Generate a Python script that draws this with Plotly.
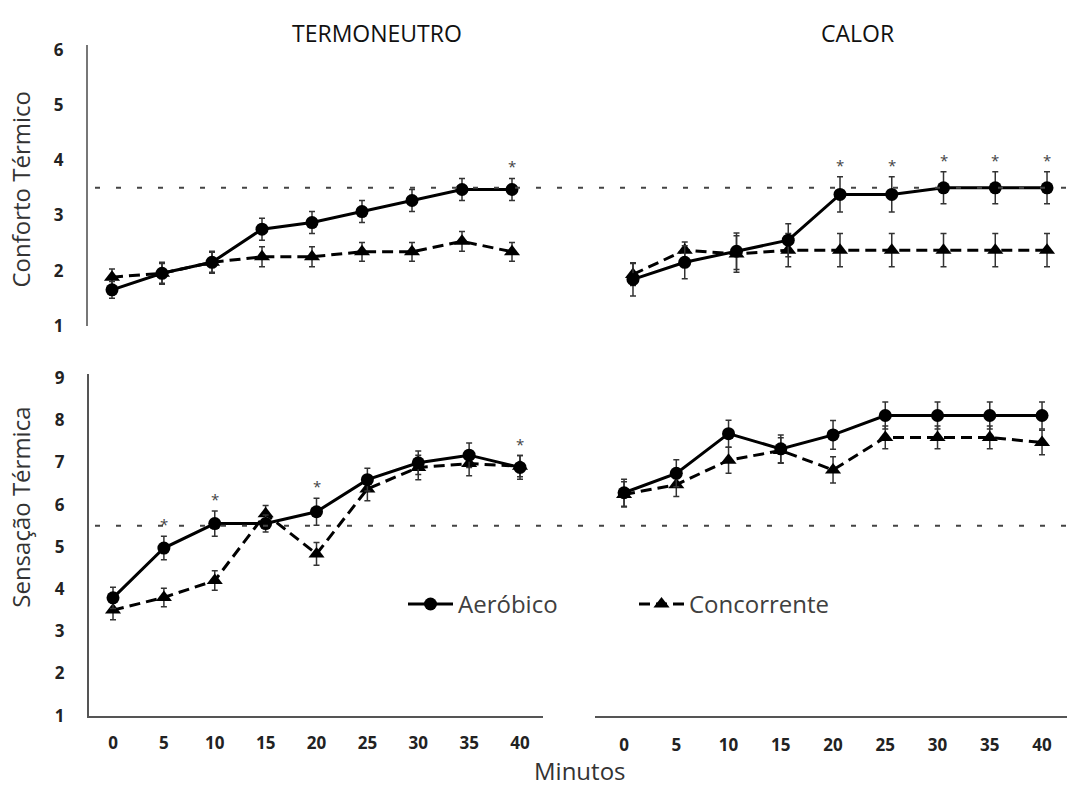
import plotly.graph_objects as go

W, H = 1067, 794

minutes = [0, 5, 10, 15, 20, 25, 30, 35, 40]

# Conforto Térmico - Termoneutro
tn_conf_aer = [1.65, 1.95, 2.15, 2.75, 2.87, 3.07, 3.27, 3.47, 3.47]
tn_conf_aer_err = [0.15, 0.2, 0.2, 0.2, 0.2, 0.2, 0.2, 0.2, 0.2]
tn_conf_con = [1.88, 1.95, 2.15, 2.25, 2.25, 2.34, 2.34, 2.53, 2.34]
tn_conf_con_err = [0.15, 0.18, 0.18, 0.18, 0.18, 0.17, 0.17, 0.18, 0.17]
# Conforto Térmico - Calor
ca_conf_aer = [1.84, 2.15, 2.35, 2.55, 3.38, 3.38, 3.5, 3.5, 3.5]
ca_conf_aer_err = [0.3, 0.3, 0.33, 0.3, 0.32, 0.32, 0.29, 0.29, 0.29]
ca_conf_con = [1.93, 2.37, 2.3, 2.37, 2.37, 2.37, 2.37, 2.37, 2.37]
ca_conf_con_err = [0.2, 0.15, 0.33, 0.3, 0.3, 0.3, 0.3, 0.3, 0.3]
# Sensação Térmica - Termoneutro
tn_sens_aer = [3.79, 4.97, 5.55, 5.55, 5.83, 6.59, 6.99, 7.17, 6.88]
tn_sens_aer_err = [0.25, 0.28, 0.3, 0.2, 0.32, 0.27, 0.28, 0.29, 0.28]
tn_sens_con = [3.5, 3.8, 4.2, 5.78, 4.83, 6.37, 6.88, 6.97, 6.91]
tn_sens_con_err = [0.23, 0.22, 0.23, 0.2, 0.27, 0.28, 0.29, 0.29, 0.25]
# Sensação Térmica - Calor
ca_sens_aer = [6.28, 6.74, 7.68, 7.32, 7.65, 8.11, 8.11, 8.11, 8.11]
ca_sens_aer_err = [0.32, 0.32, 0.32, 0.33, 0.34, 0.32, 0.32, 0.32, 0.32]
ca_sens_con = [6.24, 6.47, 7.05, 7.28, 6.82, 7.59, 7.59, 7.59, 7.47]
ca_sens_con_err = [0.3, 0.28, 0.31, 0.3, 0.31, 0.27, 0.27, 0.27, 0.29]

# minutes with significant difference (*)
tn_conf_sig = [40]
ca_conf_sig = [20, 25, 30, 35, 40]
tn_sens_sig = [5, 10, 20, 40]
ca_sens_sig = []

conf_ref = 3.5
sens_ref = 5.5

panel_titles = ["TERMONEUTRO", "CALOR"]
y_titles = ["Conforto Térmico", "Sensação Térmica"]
x_title = "Minutos"
series_names = ["Aeróbico", "Concorrente"]

FONT = "Open Sans"


def px(x):
    return x / W


def py(y):
    return 1 - y / H


fig = go.Figure()

panels = [
    ("x", "y", tn_conf_aer, tn_conf_aer_err, tn_conf_con, tn_conf_con_err, tn_conf_sig, True),
    ("x2", "y2", ca_conf_aer, ca_conf_aer_err, ca_conf_con, ca_conf_con_err, ca_conf_sig, False),
    ("x3", "y3", tn_sens_aer, tn_sens_aer_err, tn_sens_con, tn_sens_con_err, tn_sens_sig, False),
    ("x4", "y4", ca_sens_aer, ca_sens_aer_err, ca_sens_con, ca_sens_con_err, ca_sens_sig, False),
]

annotations = []
for xa, ya, aer, aer_e, con, con_e, sig, show in panels:
    fig.add_trace(go.Scatter(
        x=minutes, y=con, xaxis=xa, yaxis=ya, name=series_names[1],
        mode="lines+markers", showlegend=show, legendrank=2,
        line=dict(color="black", width=3, dash="11px,6px"),
        marker=dict(symbol="triangle-up", size=14, color="black"),
        error_y=dict(type="data", array=con_e, visible=True,
                     color="#333", thickness=1.5, width=3),
    ))
    fig.add_trace(go.Scatter(
        x=minutes, y=aer, xaxis=xa, yaxis=ya, name=series_names[0],
        mode="lines+markers", showlegend=show, legendrank=1,
        line=dict(color="black", width=3),
        marker=dict(symbol="circle", size=13, color="black"),
        error_y=dict(type="data", array=aer_e, visible=True,
                     color="#333", thickness=1.5, width=3),
    ))
    for m in sig:
        i = minutes.index(m)
        top = max(aer[i] + aer_e[i], con[i] + con_e[i])
        annotations.append(dict(
            x=m, y=top, xref=xa, yref=ya, text="*", showarrow=False,
            yanchor="middle", yshift=12,
            font=dict(family=FONT, size=15, color="#444"),
        ))

# dotted reference lines
shapes = [
    dict(type="line", xref="paper", yref="y", x0=px(95), x1=1, y0=conf_ref, y1=conf_ref,
         line=dict(color="#444", width=2, dash="5px,16px")),
    dict(type="line", xref="paper", yref="y3", x0=px(95), x1=1, y0=sens_ref, y1=sens_ref,
         line=dict(color="#444", width=2, dash="5px,16px")),
]

# titles
annotations += [
    dict(x=px(377), y=py(26), xref="paper", yref="paper", text=panel_titles[0],
         showarrow=False, xanchor="center", yanchor="middle",
         font=dict(family=FONT, size=23, color="#111")),
    dict(x=px(857), y=py(26), xref="paper", yref="paper", text=panel_titles[1],
         showarrow=False, xanchor="center", yanchor="middle",
         font=dict(family=FONT, size=23, color="#111")),
    dict(x=px(21), y=py(186), xref="paper", yref="paper", text=y_titles[0],
         showarrow=False, textangle=-90, xanchor="center", yanchor="middle",
         font=dict(family=FONT, size=24, color="#333")),
    dict(x=px(21), y=py(512), xref="paper", yref="paper", text=y_titles[1],
         showarrow=False, textangle=-90, xanchor="center", yanchor="middle",
         font=dict(family=FONT, size=24, color="#333")),
    dict(x=px(580), y=py(781), xref="paper", yref="paper", text=x_title,
         showarrow=False, xanchor="center", yanchor="middle",
         font=dict(family=FONT, size=24, color="#333")),
]

tickfont = dict(family=FONT, size=17, color="#222", weight="bold")
hidden = dict(visible=False, showgrid=False, zeroline=False)

fig.update_layout(
    width=W, height=H,
    margin=dict(l=0, r=0, t=0, b=0),
    paper_bgcolor="white", plot_bgcolor="white",
    font=dict(family=FONT),
    showlegend=True,
    legend=dict(
        orientation="h", x=px(403), y=py(611), xanchor="left", yanchor="middle",
        font=dict(family=FONT, size=24, color="#404040"),
        bgcolor="rgba(0,0,0,0)", itemwidth=45,
        entrywidth=171, entrywidthmode="pixels",
    ),
    # top-left
    xaxis=dict(domain=[px(88), px(545)], range=[-2.4, 43.3], anchor="y", **hidden),
    yaxis=dict(domain=[py(325.5), py(38)], range=[1, 6.088], anchor="x",
               showline=True, linecolor="#777", linewidth=2,
               showgrid=False, zeroline=False, tickvals=[1, 2, 3, 4, 5, 6],
               ticks="", ticklabelstandoff=19, tickfont=tickfont),
    # top-right
    xaxis2=dict(domain=[px(595), 1], range=[-3.67, 41.93], anchor="y2", **hidden),
    yaxis2=dict(domain=[py(325.5), py(38)], range=[1, 6.088], anchor="x2", **hidden),
    # bottom-left
    xaxis3=dict(domain=[px(89), px(543)], range=[-2.36, 42.26], anchor="y3",
                showline=True, linecolor="#555", linewidth=2,
                showgrid=False, zeroline=False, tickvals=minutes,
                ticks="", ticklabelstandoff=11, tickfont=tickfont),
    yaxis3=dict(domain=[py(725), py(375)], range=[1, 9.092], anchor="x3",
                showline=True, linecolor="#555", linewidth=2,
                showgrid=False, zeroline=False, tickvals=list(range(1, 10)),
                ticks="", ticklabelstandoff=19, tickfont=tickfont),
    # bottom-right
    xaxis4=dict(domain=[px(595), 1], range=[-2.78, 42.39], anchor="y4",
                showline=True, linecolor="#555", linewidth=2,
                showgrid=False, zeroline=False, tickvals=minutes,
                ticks="", ticklabelstandoff=13, tickfont=tickfont),
    yaxis4=dict(domain=[py(725), py(375)], range=[1, 9.092], anchor="x4", **hidden),
    shapes=shapes,
    annotations=annotations,
)

fig.write_html("out.html")
